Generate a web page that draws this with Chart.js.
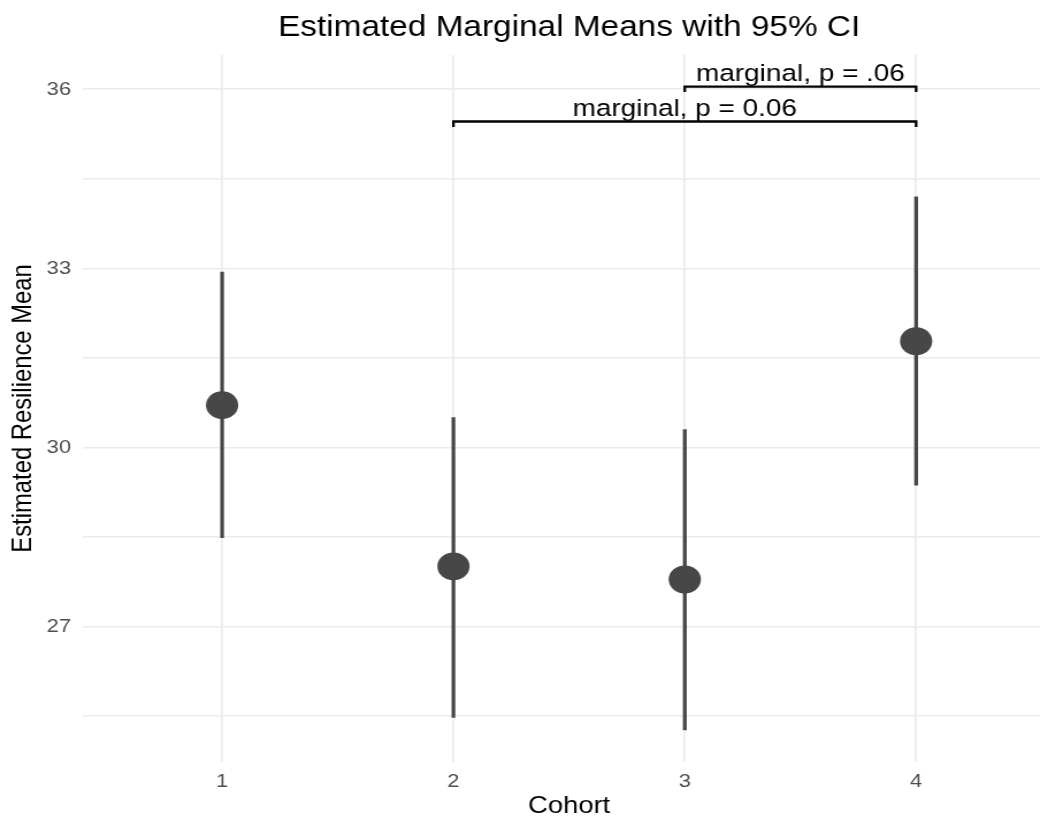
<!DOCTYPE html>
<html>
<head>
<meta charset="utf-8">
<script src="https://cdn.jsdelivr.net/npm/chart.js@4.4.1/dist/chart.umd.min.js"></script>
<style>
  html, body { margin: 0; padding: 0; background: #ffffff; overflow: hidden; width: 1040px; height: 818px; }
  #wrap { width: 917px; height: 818px; transform: scaleX(1.1504); transform-origin: 0 0; }
</style>
</head>
<body>
<div id="wrap"><canvas id="c" width="917" height="818"></canvas></div>
<script>
// Estimated marginal means of resilience by cohort, with 95% confidence limits
const cohorts = [1, 2, 3, 4];
const means = [30.71, 28.01, 27.79, 31.78];
const lowerCI = [28.49, 25.48, 25.27, 29.37];
const upperCI = [32.94, 30.50, 30.30, 34.20];

// y grid: labelled majors every 3, unlabelled minors in between
const yTickValues = [25.5, 27, 28.5, 30, 31.5, 33, 34.5, 36];
const yTickLabels = ['', '27', '', '30', '', '33', '', '36'];

// pairwise comparison brackets
const bracketFrom = [3, 2];
const bracketTo = [4, 4];
const bracketY = [36.045, 35.46];
const bracketLabels = ['marginal, p = .06', 'marginal, p = 0.06'];

const chartTitle = 'Estimated Marginal Means with 95% CI';
const xTitle = 'Cohort';
const yTitle = 'Estimated Resilience Mean';

const FONT = '"Liberation Sans", Arial, Helvetica, sans-serif';
const TIP = 0.09;
const GRID = '#ebebeb';
const INK = '#474747';

const bracketSets = bracketFrom.map((f, i) => ({
  type: 'line',
  data: [
    { x: f, y: bracketY[i] - TIP },
    { x: f, y: bracketY[i] },
    { x: bracketTo[i], y: bracketY[i] },
    { x: bracketTo[i], y: bracketY[i] - TIP }
  ],
  borderColor: '#000000',
  borderWidth: 2.3,
  borderJoinStyle: 'miter',
  pointRadius: 0,
  fill: false,
  tension: 0,
  order: 0
}));

// significance text above each bracket
const bracketText = {
  id: 'bracketText',
  afterDatasetsDraw(chart) {
    const { ctx, scales: { x, y } } = chart;
    ctx.save();
    ctx.fillStyle = '#000000';
    ctx.textAlign = 'center';
    ctx.textBaseline = 'alphabetic';
    ctx.font = '24.3px ' + FONT;
    bracketLabels.forEach((t, i) => {
      const cx = x.getPixelForValue((bracketFrom[i] + bracketTo[i]) / 2);
      ctx.fillText(t, cx, y.getPixelForValue(bracketY[i]) - 6);
    });
    ctx.restore();
  }
};

new Chart(document.getElementById('c'), {
  type: 'scatter',
  data: {
    datasets: [
      {
        type: 'line',
        data: cohorts.map((c, i) => ({ x: c, y: means[i] })),
        showLine: false,
        pointRadius: 14,
        pointHoverRadius: 14,
        pointBackgroundColor: INK,
        pointBorderWidth: 0,
        order: 1
      },
      {
        type: 'bar',
        data: cohorts.map((c, i) => ({ x: c, y: [lowerCI[i], upperCI[i]] })),
        backgroundColor: INK,
        borderWidth: 0,
        barThickness: 2.6,
        order: 2
      },
      ...bracketSets
    ]
  },
  options: {
    responsive: false,
    animation: false,
    devicePixelRatio: 1,
    layout: { padding: 0, autoPadding: false },
    plugins: {
      legend: { display: false },
      tooltip: { enabled: false },
      title: {
        display: true,
        text: chartTitle,
        fullSize: false,
        color: '#000000',
        font: { family: FONT, size: 29, weight: 'normal', lineHeight: 1.2 },
        padding: { top: 10.2, bottom: 10 }
      }
    },
    scales: {
      x: {
        type: 'linear',
        min: 0.4,
        max: 4.6,
        offset: false,
        afterBuildTicks: s => { s.ticks = cohorts.map(v => ({ value: v })); },
        afterFit: s => { s.height = 56; s.paddingLeft = 0; s.paddingRight = 0; },
        grid: { color: GRID, lineWidth: 1.7, drawTicks: false, offset: false },
        border: { display: false },
        ticks: {
          color: '#4d4d4d',
          font: { family: FONT, size: 19 },
          padding: 8,
          autoSkip: false,
          maxRotation: 0,
          callback: v => String(v)
        },
        title: {
          display: true,
          text: xTitle,
          color: '#000000',
          font: { family: FONT, size: 23.8, lineHeight: 1 },
          padding: { top: 0, bottom: 0 }
        }
      },
      y: {
        type: 'linear',
        min: 24.734,
        max: 36.574,
        afterBuildTicks: s => { s.ticks = yTickValues.map(v => ({ value: v })); },
        afterFit: s => { s.width = 72.4; s.paddingTop = 0; s.paddingBottom = 0; },
        grid: { color: GRID, lineWidth: 1.6, drawTicks: false },
        border: { display: false },
        ticks: {
          color: '#4d4d4d',
          font: { family: FONT, size: 19 },
          padding: 10.7,
          autoSkip: false,
          callback: v => yTickLabels[yTickValues.indexOf(v)]
        },
        title: {
          display: true,
          text: yTitle,
          color: '#000000',
          font: { family: FONT, size: 23.8, lineHeight: 1.2 },
          padding: { top: 6.6, bottom: 0 }
        }
      }
    }
  },
  plugins: [bracketText]
});
</script>
</body>
</html>
